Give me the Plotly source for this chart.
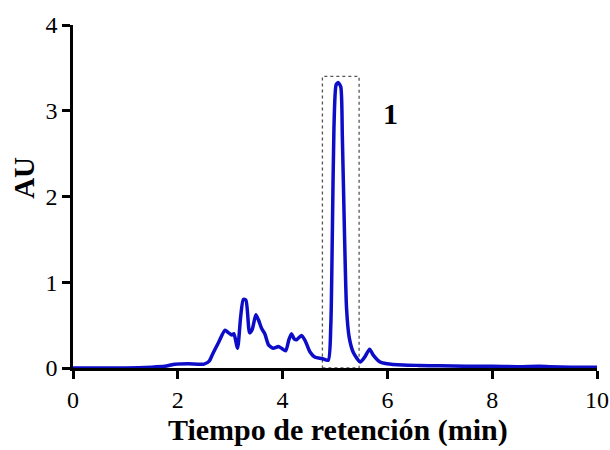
import plotly.graph_objects as go

# Chromatogram: retention time (min) vs absorbance (AU)
time_min = [0.0, 0.5, 1.0, 1.5, 1.75, 1.95, 2.2, 2.5, 2.6, 2.67, 2.78, 2.9, 2.97, 3.03, 3.07,
            3.14, 3.2, 3.25, 3.3, 3.37, 3.42, 3.49, 3.54, 3.6, 3.66, 3.73, 3.82, 3.92,
            3.98, 4.06, 4.12, 4.17, 4.22, 4.27, 4.36, 4.43, 4.52, 4.62, 4.75, 4.87,
            4.92, 4.95, 4.98, 5.02, 5.06, 5.11, 5.14, 5.18, 5.22, 5.27, 5.35, 5.48,
            5.57, 5.66, 5.73, 5.86, 5.99, 6.3, 6.6, 7.0, 7.5, 8.0, 8.5, 8.9, 9.1, 9.5, 10.0]
absorbance = [0.0, 0.0, 0.0, 0.01, 0.02, 0.045, 0.05, 0.045, 0.08, 0.17, 0.3, 0.44, 0.41, 0.385, 0.40,
              0.23, 0.6, 0.80, 0.79, 0.41, 0.45, 0.62, 0.56, 0.46, 0.40, 0.27, 0.23, 0.25,
              0.23, 0.20, 0.33, 0.40, 0.34, 0.33, 0.38, 0.32, 0.19, 0.125, 0.11, 0.09,
              0.5, 1.6, 2.8, 3.30, 3.33, 3.28, 2.7, 1.6, 0.7, 0.36, 0.18, 0.07,
              0.13, 0.22, 0.15, 0.07, 0.05, 0.035, 0.03, 0.025, 0.02, 0.02, 0.015, 0.02, 0.015, 0.01, 0.01]

# Highlighted window around the main peak
window_start, window_end, window_top = 4.76, 5.46, 3.40
peak_label, peak_label_x, peak_label_y = "1", 6.05, 2.97

x_ticks = [0, 2, 4, 6, 8, 10]
y_ticks = [0, 1, 2, 3, 4]
x_title = "Tiempo de retención (min)"
y_title = "AU"

serif = "Liberation Serif, Times New Roman, serif"

fig = go.Figure()
fig.add_trace(go.Scatter(
    x=time_min, y=absorbance, mode="lines",
    line=dict(color="#0D0DC8", width=3.5, shape="spline", smoothing=0.6),
    showlegend=False, hoverinfo="skip",
))

fig.add_shape(type="rect", xref="x", yref="y",
              x0=window_start, x1=window_end, y0=0, y1=window_top,
              line=dict(color="#555555", width=1.3, dash="dot"), layer="below")

fig.add_annotation(x=peak_label_x, y=peak_label_y, text="<b>%s</b>" % peak_label,
                   showarrow=False, font=dict(family=serif, size=30, color="black"))

# Axis titles placed as paper-anchored annotations
fig.add_annotation(xref="paper", yref="paper", x=0.505, y=-0.236, yanchor="bottom",
                   text="<b>%s</b>" % x_title, showarrow=False,
                   font=dict(family=serif, size=30, color="black"))
fig.add_annotation(xref="paper", yref="paper", x=-0.095, y=0.555, xanchor="center",
                   yanchor="middle", textangle=-90,
                   text="<b>%s</b>" % y_title, showarrow=False,
                   font=dict(family=serif, size=29, color="black"))

axis_common = dict(
    showgrid=False, zeroline=False, showline=True, linecolor="black", linewidth=2.5,
    ticks="outside", tickcolor="black", tickwidth=2.5, automargin=False,
    tickfont=dict(family=serif, size=24, color="black"),
)

fig.update_layout(
    width=610, height=450,
    margin=dict(l=73, r=13, t=25, b=82),
    paper_bgcolor="white", plot_bgcolor="white",
    xaxis=dict(range=[0, 10], tickvals=x_ticks, ticklen=8, **axis_common),
    yaxis=dict(range=[0, 4], tickvals=y_ticks, ticklen=8, **axis_common),
)

fig.write_html("out.html")
